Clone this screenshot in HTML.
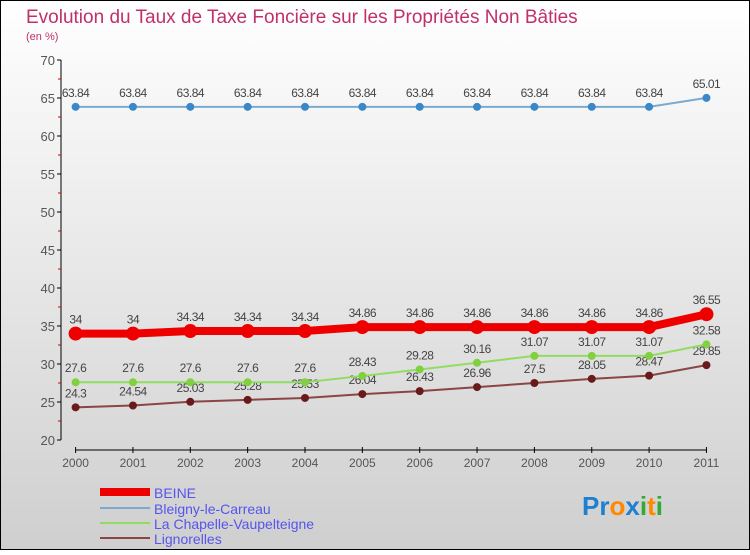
<!DOCTYPE html>
<html><head><meta charset="utf-8"><style>
body{margin:0;}
svg text{font-family:"Liberation Sans",sans-serif;}
</style></head><body>
<svg width="750" height="550" xmlns="http://www.w3.org/2000/svg" id="chart">
<defs><linearGradient id="bg" x1="0" y1="0" x2="0" y2="1"><stop offset="0" stop-color="#ffffff"/><stop offset="1" stop-color="#cfcfcf"/></linearGradient></defs>
<rect x="0.5" y="0.5" width="749" height="549" fill="url(#bg)" stroke="#000" stroke-width="1"/>
<text x="26" y="23" font-size="19" fill="#c0306a">Evolution du Taux de Taxe Foncière sur les Propriétés Non Bâties</text>
<text x="26" y="40" font-size="11" fill="#c0306a">(en %)</text>
<g id="axes"></g>
<g id="series"></g>
<g>
<rect x="100" y="488" width="50" height="8" fill="#e00"/>
<text x="154" y="498" font-size="14" fill="#5555ee">BEINE</text>
<line x1="100" y1="508" x2="150" y2="508" stroke="#7aaad0" stroke-width="2"/>
<text x="154" y="514" font-size="14" fill="#5555ee">Bleigny-le-Carreau</text>
<line x1="100" y1="523" x2="150" y2="523" stroke="#90dd60" stroke-width="2"/>
<text x="154" y="529" font-size="14" fill="#5555ee">La Chapelle-Vaupelteigne</text>
<line x1="100" y1="538" x2="150" y2="538" stroke="#8a4545" stroke-width="2"/>
<text x="154" y="544" font-size="14" fill="#5555ee">Lignorelles</text>
</g>
<text x="582" y="515" font-size="26" font-weight="bold"><tspan fill="#1f7fd0">Pr</tspan><tspan fill="#ff8800">o</tspan><tspan fill="#1f7fd0">x</tspan><tspan fill="#33aa33">i</tspan><tspan fill="#ff8800">t</tspan><tspan fill="#33aa33">i</tspan></text>
</svg>
<script>
const years=[2000,2001,2002,2003,2004,2005,2006,2007,2008,2009,2010,2011];
const beine=[34,34,34.34,34.34,34.34,34.86,34.86,34.86,34.86,34.86,34.86,36.55];
const bleigny=[63.84,63.84,63.84,63.84,63.84,63.84,63.84,63.84,63.84,63.84,63.84,65.01];
const chapelle=[27.6,27.6,27.6,27.6,27.6,28.43,29.28,30.16,31.07,31.07,31.07,32.58];
const lignorelles=[24.3,24.54,25.03,25.28,25.53,26.04,26.43,26.96,27.5,28.05,28.47,29.85];
const yTicks=[20,25,30,35,40,45,50,55,60,65,70];
const NS="http://www.w3.org/2000/svg";
const x=i=>75.6+i*57.35;
const y=v=>440-(v-20)*7.6;
function mk(t,a,p){const e=document.createElementNS(NS,t);for(const k in a)e.setAttribute(k,a[k]);p.appendChild(e);return e;}
const ax=document.getElementById('axes');
let l=mk('line',{x1:61,y1:60,x2:61,y2:440,stroke:'#000','stroke-width':1},ax);


yTicks.forEach(v=>{
 mk('line',{x1:57,y1:y(v),x2:61,y2:y(v),stroke:'#000'},ax);
 if(v<70)mk('line',{x1:58,y1:y(v+2.5),x2:61,y2:y(v+2.5),stroke:'#d00'},ax);
 const t=mk('text',{x:55,y:y(v)+5,'font-size':13,fill:'#555','text-anchor':'end'},ax);t.textContent=v;
 
 
});
l=mk('line',{x1:75.6,y1:450,x2:706,y2:450,stroke:'#000'},ax);


years.forEach((yr,i)=>{
 mk('line',{x1:x(i),y1:447,x2:x(i),y2:453,stroke:'#000'},ax);
 const t=mk('text',{x:x(i),y:467,'font-size':12,fill:'#555','text-anchor':'middle'},ax);t.textContent=yr;
 
 
});
const sg=document.getElementById('series');
function series(name,vals,color,w,r,dot,labCol){
 const g=mk('g',{},sg);
 
 
 mk('polyline',{points:vals.map((v,i)=>x(i)+','+y(v)).join(' '),fill:'none',stroke:color,'stroke-width':w},g);
 vals.forEach((v,i)=>{
  const c=mk('circle',{cx:x(i),cy:y(v),r:r,fill:dot},g);
  
  
  const t=mk('text',{x:x(i),y:y(v)-10,'font-size':12,fill:'#444','text-anchor':'middle','letter-spacing':'-0.5'},g);t.textContent=v;
 });
}
series('lignorelles',lignorelles,'#8a4545',2,4,'#6a1a1a');
series('chapelle',chapelle,'#90dd60',2,4,'#80d040');
series('bleigny',bleigny,'#7aaad0',2,4,'#3a88c8');
series('beine',beine,'#ee0000',8,7,'#ee0000');
</script>
</body></html>
